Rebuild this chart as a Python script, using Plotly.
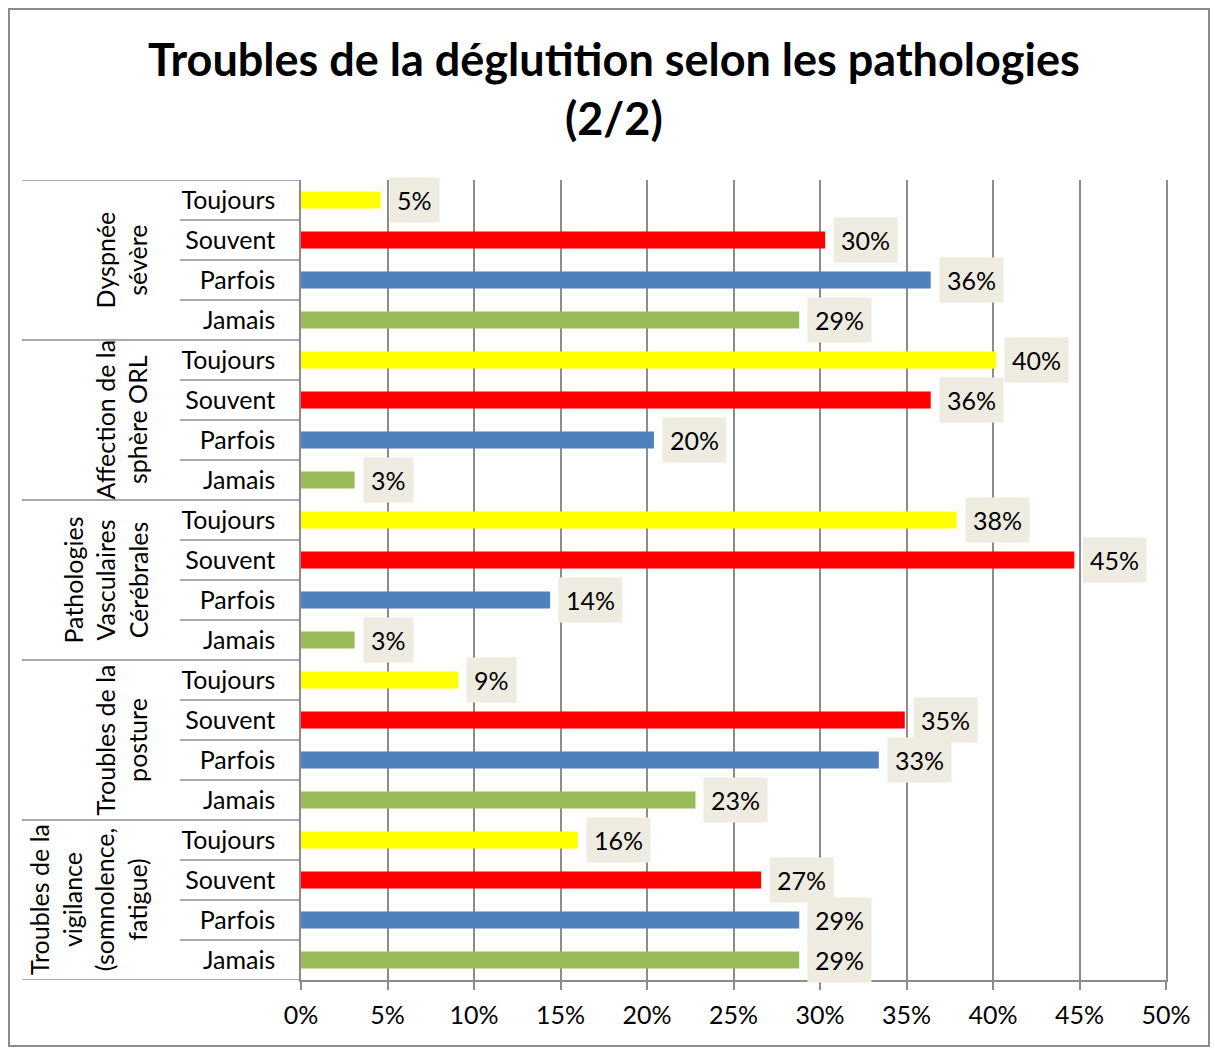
import plotly.graph_objects as go

# categories
groups = [
    "Dyspnée<br>sévère",
    "Affection de la<br>sphère ORL",
    "Pathologies<br>Vasculaires<br>Cérébrales",
    "Troubles de la<br>posture",
    "Troubles de la<br>vigilance<br>(somnolence,<br>fatigue)",
]
levels = ["Toujours", "Souvent", "Parfois", "Jamais"]
level_colors = ["#FFFF00", "#FF0000", "#4F81BD", "#9BBB59"]

# values per level, one per group (fraction)
toujours = [0.046, 0.402, 0.379, 0.091, 0.160]
souvent = [0.303, 0.364, 0.447, 0.349, 0.266]
parfois = [0.364, 0.204, 0.144, 0.334, 0.288]
jamais = [0.288, 0.031, 0.031, 0.228, 0.288]

series = [toujours, souvent, parfois, jamais]

ys, xs, cols, ticktext = [], [], [], []
for g in range(len(groups)):
    for l, name in enumerate(levels):
        ys.append(g * len(levels) + l)
        xs.append(series[l][g])
        cols.append(level_colors[l])
        ticktext.append(name)

FONT = "Lato"
FS = 25
GRID = "#8c8c8c"
W, H = 1215, 1048
ML, MR, MT, MB = 301, 49, 180, 68
pw, ph = W - ML - MR, H - MT - MB


def px_x(p):
    return (p - ML) / pw


def px_y(p):
    return (H - MB - p) / ph


fig = go.Figure(go.Bar(
    x=xs, y=ys, orientation="h", width=0.43,
    marker=dict(color=cols, line=dict(width=0)),
    hoverinfo="skip",
))

# value labels with beige boxes
for x, y in zip(xs, ys):
    fig.add_annotation(
        x=x, y=y, xref="x", yref="y", text=f"{x:.0%}",
        xanchor="left", yanchor="middle", xshift=8, showarrow=False,
        bgcolor="#EEECE1", borderpad=7,
        font=dict(family=FONT, size=FS, color="#000000"),
    )

# group labels and separators
n = len(levels)
for g, label in enumerate(groups):
    fig.add_annotation(
        x=px_x(154), xref="paper", y=g * n + (n - 1) / 2, yref="y",
        text=label, textangle=-90, xanchor="right", yanchor="middle",
        showarrow=False, align="center",
        font=dict(family=FONT, size=FS, color="#000000"),
    )
    for l in range(1, n):
        fig.add_shape(type="line", xref="paper", yref="y",
                      x0=px_x(180), x1=px_x(301), y0=g * n + l - 0.5, y1=g * n + l - 0.5,
                      line=dict(color=GRID, width=1.5))
for g in range(len(groups) + 1):
    fig.add_shape(type="line", xref="paper", yref="y",
                  x0=px_x(22), x1=px_x(301), y0=g * n - 0.5, y1=g * n - 0.5,
                  line=dict(color=GRID, width=1.5))

# outer chart border
fig.add_shape(type="rect", xref="paper", yref="paper",
              x0=px_x(9), x1=px_x(1209), y0=px_y(1046), y1=px_y(9),
              line=dict(color=GRID, width=2))

# title (annotation so both lines sit where they should)
fig.add_annotation(
    text="<b>Troubles de la déglutition selon les pathologies<br>(2/2)</b>",
    xref="paper", yref="paper", x=px_x(614), y=px_y(88),
    xanchor="center", yanchor="middle", showarrow=False, align="center",
    font=dict(family=FONT, size=45, color="#000000"),
)

fig.update_layout(
    width=W, height=H,
    margin=dict(l=ML, r=MR, t=MT, b=MB),
    paper_bgcolor="white", plot_bgcolor="white",
    showlegend=False,
    font=dict(family=FONT, size=FS, color="#000000"),
)
fig.update_xaxes(
    range=[0, 0.5], dtick=0.05, tick0=0, tickformat=".0%",
    showgrid=True, gridcolor=GRID, gridwidth=1.5, zeroline=False,
    showline=True, linecolor=GRID, linewidth=1.5,
    ticks="outside", ticklen=8, tickcolor=GRID, tickwidth=1.5,
    ticklabelstandoff=4,
    tickfont=dict(family=FONT, size=FS, color="#000000"),
    fixedrange=True,
)
fig.update_yaxes(
    range=[len(ys) - 0.5, -0.5], tickvals=ys, ticktext=ticktext,
    showgrid=False, zeroline=False,
    showline=True, mirror=True, linecolor=GRID, linewidth=1.5,
    ticks="", ticklabelstandoff=19,
    tickfont=dict(family=FONT, size=FS, color="#000000"),
    fixedrange=True,
)

fig.write_html("out.html", config={"displayModeBar": False},
               post_script="document.body.style.margin='0';")
